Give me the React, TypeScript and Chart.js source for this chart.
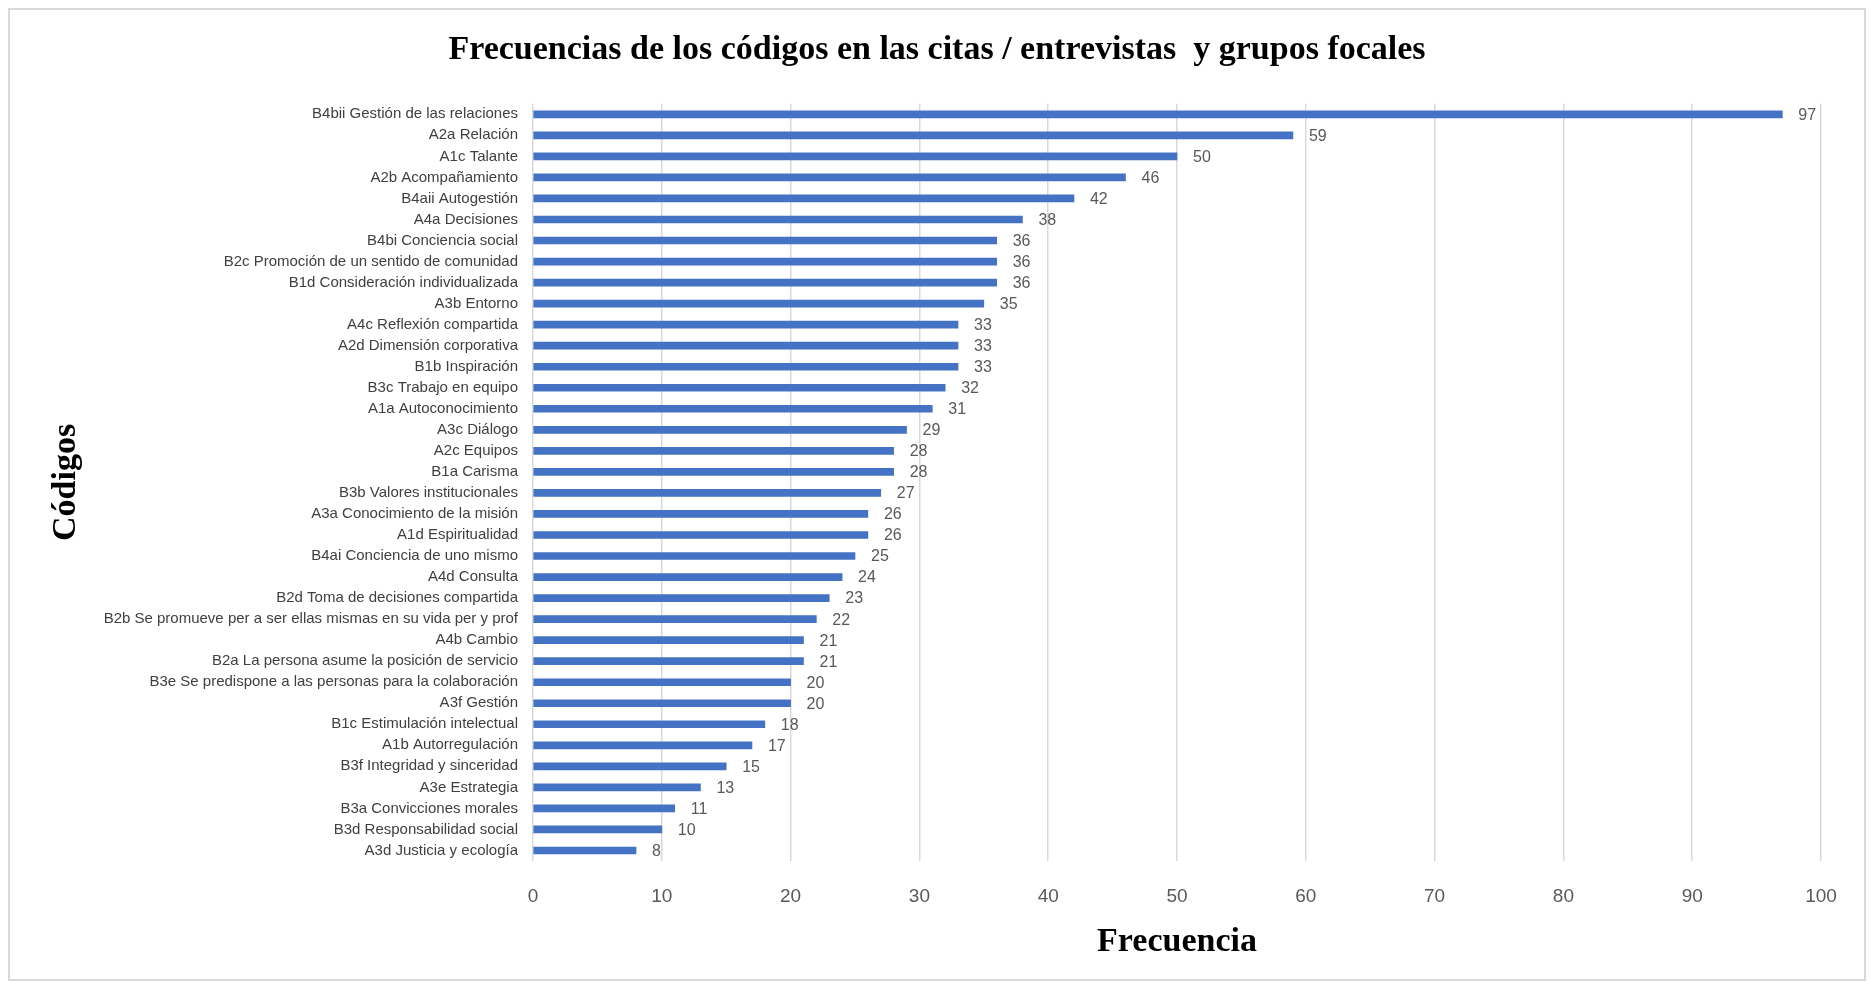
import React, { useEffect, useRef } from "react";
import { Chart, registerables } from "chart.js";

Chart.register(...registerables);

const categories: string[] = [
  "B4bii Gestión de las relaciones",
  "A2a Relación",
  "A1c Talante",
  "A2b Acompañamiento",
  "B4aii Autogestión",
  "A4a Decisiones",
  "B4bi Conciencia social",
  "B2c Promoción de un sentido de comunidad",
  "B1d Consideración individualizada",
  "A3b Entorno",
  "A4c Reflexión compartida",
  "A2d Dimensión corporativa",
  "B1b Inspiración",
  "B3c Trabajo en equipo",
  "A1a Autoconocimiento",
  "A3c Diálogo",
  "A2c Equipos",
  "B1a Carisma",
  "B3b Valores institucionales",
  "A3a Conocimiento de la misión",
  "A1d Espiritualidad",
  "B4ai Conciencia de uno mismo",
  "A4d Consulta",
  "B2d Toma de decisiones compartida",
  "B2b Se promueve per a ser ellas mismas en su vida per y prof",
  "A4b Cambio",
  "B2a La persona asume la posición de servicio",
  "B3e Se predispone a las personas para la colaboración",
  "A3f Gestión",
  "B1c Estimulación intelectual",
  "A1b Autorregulación",
  "B3f Integridad y sinceridad",
  "A3e Estrategia",
  "B3a Convicciones morales",
  "B3d Responsabilidad social",
  "A3d Justicia y ecología",
];

const frecuencias: number[] = [
  97, 59, 50, 46, 42, 38, 36, 36, 36, 35, 33, 33, 33, 32, 31, 29, 28, 28, 27,
  26, 26, 25, 24, 23, 22, 21, 21, 20, 20, 18, 17, 15, 13, 11, 10, 8,
];

const chartTitle = "Frecuencias de los códigos en las citas / entrevistas  y grupos focales";
const xTitle = "Frecuencia";
const yTitle = "Códigos";

const LABEL_FONT = "'Liberation Sans Narrow', 'Liberation Sans', Arial, sans-serif";
const SERIF = "'Liberation Serif', 'Times New Roman', serif";

const framePlugin = {
  id: "frame",
  beforeDraw(chart: any) {
    const { ctx, width, height } = chart;
    ctx.save();
    ctx.fillStyle = "#ffffff";
    ctx.fillRect(0, 0, width, height);
    ctx.strokeStyle = "#d9d9d9";
    ctx.lineWidth = 2;
    ctx.strokeRect(1, 1, width - 2, height - 2);
    ctx.restore();
  },
};

const valueLabelPlugin = {
  id: "valueLabels",
  afterDatasetsDraw(chart: any) {
    const { ctx } = chart;
    const meta = chart.getDatasetMeta(0);
    const data = chart.data.datasets[0].data as number[];
    ctx.save();
    ctx.font = `16px ${LABEL_FONT}`;
    ctx.fillStyle = "#595959";
    ctx.textAlign = "left";
    ctx.textBaseline = "middle";
    meta.data.forEach((bar: any, i: number) => {
      ctx.fillText(String(data[i]), bar.x + 16, bar.y + 1);
    });
    ctx.restore();
  },
};

export default function App() {
  const canvasRef = useRef<HTMLCanvasElement | null>(null);

  useEffect(() => {
    if (!canvasRef.current) return;
    const chart = new Chart(canvasRef.current, {
      type: "bar",
      data: {
        labels: categories,
        datasets: [
          {
            label: xTitle,
            data: frecuencias,
            backgroundColor: "#4472C4",
            barThickness: 7,
          },
        ],
      },
      options: {
        indexAxis: "y",
        responsive: false,
        animation: false,
        layout: { padding: { left: 45, right: 45, top: 0, bottom: 0 } },
        plugins: {
          legend: { display: false },
          tooltip: { enabled: false },
          title: {
            display: true,
            text: chartTitle,
            color: "#000000",
            font: { family: SERIF, size: 34, weight: "bold" },
            padding: { top: 22, bottom: 33 },
          },
        },
        scales: {
          x: {
            min: 0,
            max: 100,
            ticks: {
              stepSize: 10,
              color: "#595959",
              font: { family: LABEL_FONT, size: 19 },
              padding: 24,
            },
            grid: { color: "#d9d9d9", lineWidth: 1.5, drawTicks: false },
            border: { display: false },
            title: {
              display: true,
              text: xTitle,
              color: "#000000",
              font: { family: SERIF, size: 34, weight: "bold" },
              padding: { top: 0, bottom: 18 },
            },
            afterFit(scale: any) {
              scale.height = 120;
            },
          },
          y: {
            ticks: {
              color: "#404040",
              font: { family: LABEL_FONT, size: 15 },
              padding: 15,
              autoSkip: false,
            },
            grid: { display: false, drawTicks: false },
            border: { display: false },
            title: {
              display: true,
              text: yTitle,
              color: "#000000",
              font: { family: SERIF, size: 34, weight: "bold" },
              padding: { top: -7, bottom: 0 },
            },
            afterFit(scale: any) {
              scale.width = 480;
            },
          },
        },
      },
      plugins: [framePlugin, valueLabelPlugin],
    });
    return () => chart.destroy();
  }, []);

  return (
    <div style={{ width: 1858, height: 973 }}>
      <canvas ref={canvasRef} width={1858} height={973} style={{ display: "block" }} />
    </div>
  );
}
